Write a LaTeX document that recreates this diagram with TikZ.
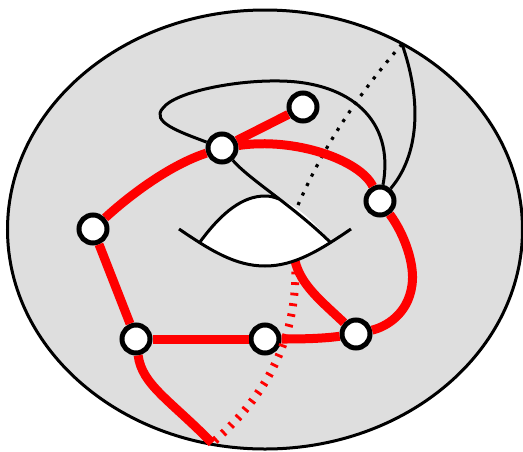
\documentclass[tikz,border=0pt]{standalone}
\begin{document}
\begin{tikzpicture}[x=1pt,y=-1pt,
  vertex/.style={circle,draw=black,fill=white,line width=5pt,minimum size=28pt,inner sep=0pt},
  thin curve/.style={draw=black,line width=3pt},
  red edge/.style={draw=red,line width=9pt},
  red dash/.style={draw=red,line width=8pt,dash pattern=on 2.8pt off 7.8pt},
  black dots/.style={draw=black,line width=3.2pt,dash pattern=on 3.2pt off 7.3pt}]
\useasboundingbox (0,0) rectangle (523,451);
\fill[fill=white] (0,0) rectangle (523,451);
\draw[fill=black!13,line width=3pt] (265,229.5) ellipse [x radius=257.5,y radius=219.5];
% named points
\coordinate (top) at (402,44);
\coordinate (bot) at (212,443);
\coordinate (hl) at (200,242);
\coordinate (hr) at (330,242);
\coordinate (hlo) at (179,229);
\coordinate (hro) at (351,229);
\coordinate (hred) at (295,261);
\coordinate (dotend) at (298,205);
% hole
\fill[white] (hl) .. controls (222,212) and (243,196) .. (265,196) .. controls (288,198) and (310,216) .. (hr) .. controls (305,256) and (288,266) .. (265,266) .. controls (240,266) and (222,256) .. (hl);
% vertices
\node[vertex] (a) at (303,107) {};
\node[vertex] (b) at (222,148) {};
\node[vertex] (c) at (380,201) {};
\node[vertex] (d) at (93,229) {};
\node[vertex] (e) at (136,339) {};
\node[vertex] (f) at (265,339) {};
\node[vertex] (g) at (356,334) {};
% dashed
\draw[red dash] (hred) .. controls (298,320) and (280,385) .. (bot);
\draw[black dots] (dotend) .. controls (318,160) and (345,110) .. (top);
% red edges
\draw[red edge] (a) -- (b);
\draw[red edge] (b) .. controls (295,137) and (360,160) .. (c);
\draw[red edge] (b) .. controls (170,165) and (130,195) .. (d);
\draw[red edge] (d) -- (e);
\draw[red edge] (e) -- (f);
\draw[red edge] (f) .. controls (295,339) and (320,339) .. (g);
\draw[red edge] (e) .. controls (142,385) and (170,400) .. (bot);
\draw[red edge] (c) .. controls (405,235) and (415,265) .. (412,285) .. controls (408,315) and (385,327) .. (g);
\draw[red edge] (hred) .. controls (301,285) and (320,300) .. (g);
% thin curves
\draw[thin curve] (b) .. controls (180,132) and (150,122) .. (163,108) .. controls (175,92) and (235,80) .. (280,81) .. controls (350,82) and (395,120) .. (c);
\draw[thin curve] (c) .. controls (415,160) and (425,110) .. (top);
\draw[thin curve] (b) .. controls (250,180) and (292,205) .. (hr);
\draw[thin curve] (hl) .. controls (222,212) and (243,196) .. (265,196) .. controls (270,196) and (274,197) .. (279,199);
\draw[thin curve] (hlo) .. controls (210,250) and (235,266) .. (265,266) .. controls (295,266) and (320,250) .. (hro);
\end{tikzpicture}
\end{document}
